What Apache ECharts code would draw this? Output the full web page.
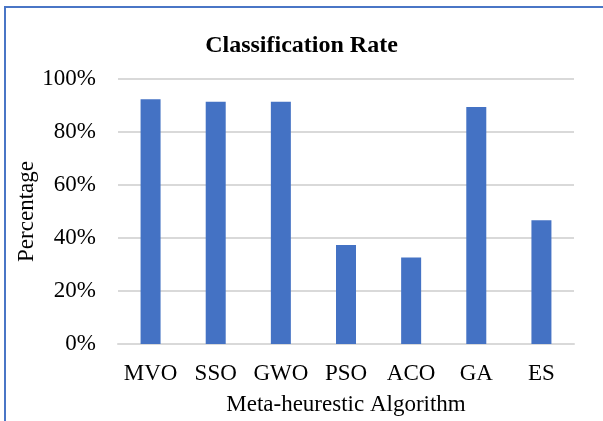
<!DOCTYPE html>
<html>
<head>
<meta charset="utf-8">
<script src="https://cdn.jsdelivr.net/npm/echarts@6/dist/echarts.min.js"></script>
<style>
  html, body { margin: 0; padding: 0; background: #fff; overflow: hidden; }
  #frame {
    position: absolute; left: 4px; top: 6px; width: 700px; height: 500px;
    border-left: 2px solid #4a76c6; border-top: 2px solid #4a76c6;
  }
  #chart { position: absolute; left: 0; top: 0; width: 603px; height: 421px; }
</style>
</head>
<body>
<div id="frame"></div>
<div id="chart"></div>
<script>
// Classification rate per meta-heuristic algorithm (percent)
const categories = ['MVO', 'SSO', 'GWO', 'PSO', 'ACO', 'GA', 'ES'];
const rates = [92.4, 91.4, 91.4, 37.4, 32.6, 89.4, 46.7];
const yTicks = [0, 20, 40, 60, 80, 100];

const serif = "'Liberation Serif', 'Times New Roman', serif";
const chart = echarts.init(document.getElementById('chart'), null, { renderer: 'canvas' });

chart.setOption({
  backgroundColor: 'transparent',
  animation: false,
  title: {
    text: 'Classification Rate',
    left: 'center',
    top: 34,
    padding: 0,
    textStyle: { fontFamily: serif, fontSize: 24, fontWeight: 'bold', color: '#000' }
  },
  grid: { left: 118, right: 29, top: 79, bottom: 75, containLabel: false },
  xAxis: {
    type: 'category',
    data: categories,
    name: 'Meta-heurestic Algorithm',
    nameLocation: 'middle',
    nameGap: 49,
    nameMoveOverlap: false,
    nameTextStyle: { fontFamily: serif, fontSize: 23, color: '#000', verticalAlign: 'top', lineHeight: 23 },
    axisLine: { lineStyle: { color: '#d9d9d9', width: 2 } },
    axisTick: { show: false },
    axisLabel: { fontFamily: serif, fontSize: 23, color: '#000', margin: 18, interval: 0 }
  },
  yAxis: {
    type: 'value',
    min: yTicks[0],
    max: yTicks[yTicks.length - 1],
    interval: yTicks[1] - yTicks[0],
    name: 'Percentage',
    nameLocation: 'middle',
    nameGap: 80,
    nameMoveOverlap: false,
    nameTextStyle: { fontFamily: serif, fontSize: 23, color: '#000' },
    axisLine: { show: false },
    axisTick: { show: false },
    axisLabel: { fontFamily: serif, fontSize: 23, color: '#000', margin: 22, formatter: '{value}%' },
    splitLine: { lineStyle: { color: '#d9d9d9', width: 2 } }
  },
  series: [{
    type: 'bar',
    data: rates,
    barWidth: 20,
    itemStyle: { color: '#4472c4' }
  }]
});
</script>
</body>
</html>
